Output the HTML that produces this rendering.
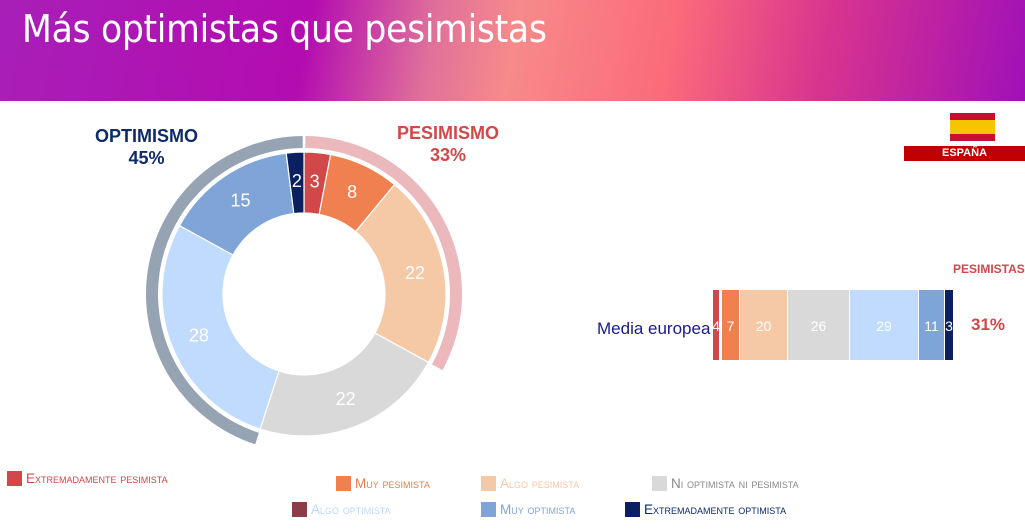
<!DOCTYPE html>
<html><head><meta charset="utf-8"><style>
body{margin:0;width:1025px;height:530px;overflow:hidden;background:#fff;font-family:"Liberation Sans",sans-serif;position:relative}
.hdr{position:absolute;left:0;top:0;width:1025px;height:101px;background:linear-gradient(100deg,#a81fb8 0%,#b30cb0 30%,#e0709a 42%,#f78a8a 50%,#fb6b7a 65%,#d8348f 80%,#a010b8 100%)}
.t{position:absolute;left:22px;top:7px;color:#fff;font-size:38.5px;font-family:"DejaVu Sans Condensed","Liberation Sans Narrow","Liberation Sans",sans-serif;letter-spacing:-0.3px}
.a{position:absolute;white-space:nowrap}
.lg{position:absolute;font-size:13.5px;font-variant:small-caps;white-space:nowrap}
.lg i{display:inline-block;width:15px;height:15px;vertical-align:-3px;margin-right:4px}
</style></head><body>
<div class="hdr"></div>
<div class="t">Más optimistas que pesimistas</div>
<svg class="a" style="left:0;top:0" width="1025" height="530" id="s"></svg>
<div class="a" style="left:95px;top:125px;color:#0d2a6b;font-weight:bold;font-size:18px;text-align:center;line-height:22px">OPTIMISMO<br>45%</div>
<div class="a" style="left:397px;top:122px;color:#d04848;font-weight:bold;font-size:18px;text-align:center;line-height:22px">PESIMISMO<br>33%</div>
<div class="a" style="left:950px;top:113px;width:45px;height:28px;background:#c8102e"><div style="margin-top:7px;height:14px;background:#f6c400"></div></div>
<div class="a" style="left:904px;top:146px;width:121px;height:15px;background:#c00000;color:#fff;font-size:11px;font-weight:bold;text-align:center;line-height:15px">ESPAÑA</div>
<div class="a" style="left:953px;top:262px;color:#d04848;font-weight:bold;font-size:12px">PESIMISTAS</div>
<div class="a" style="left:971px;top:315px;color:#d04848;font-weight:bold;font-size:17px">31%</div>
<div class="a" style="left:597px;top:319px;color:#1a1a8c;font-size:17px">Media europea</div>
<div class="lg" style="left:7px;top:471px;color:#d04848"><i style="background:#d04848"></i>Extremadamente pesimista</div>
<div class="lg" style="left:336px;top:476px;color:#e88048"><i style="background:#f08050"></i>Muy pesimista</div>
<div class="lg" style="left:481px;top:476px;color:#f4c8a8"><i style="background:#f5c9a6"></i>Algo pesimista</div>
<div class="lg" style="left:652px;top:476px;color:#888"><i style="background:#d9d9d9"></i>Ni optimista ni pesimista</div>
<div class="lg" style="left:292px;top:502px;color:#c0d8f8"><i style="background:#8c3c48"></i>Algo optimista</div>
<div class="lg" style="left:481px;top:502px;color:#7fa5d8"><i style="background:#7fa5d8"></i>Muy optimista</div>
<div class="lg" style="left:625px;top:502px;color:#0d2a6b"><i style="background:#0a2060"></i>Extremadamente optimista</div>
<script>
var s=document.getElementById('s'),cx=304,cy=294,h='';
function p(a,r){a=(a-90)*Math.PI/180;return [cx+r*Math.cos(a),cy+r*Math.sin(a)]}
function arc(a0,a1,r0,r1,f,st){var A=p(a0,r1),B=p(a1,r1),C=p(a1,r0),D=p(a0,r0),l=a1-a0>180?1:0;
return '<path d="M'+A+'A'+r1+','+r1+' 0 '+l+' 1 '+B+'L'+C+'A'+r0+','+r0+' 0 '+l+' 0 '+D+'Z" fill="'+f+'" '+(st||'')+'/>'}
h+=arc(0.5,118.8,146,158,'#ebb8bc');
h+=arc(198,359.5,146,158,'#95a3b3');
var d=[[3,'#d04848'],[8,'#f08050'],[22,'#f5c9a6'],[22,'#d9d9d9'],[28,'#c0dbfd'],[15,'#7fa5d8'],[2,'#0a2060']],a=0;
d.forEach(function(x){var a1=a+x[0]*3.6;h+=arc(a,a1,81,142,x[1],'stroke="#fff" stroke-width="1.2"');
var m=p((a+a1)/2,113);h+='<text x="'+m[0]+'" y="'+(m[1]+6)+'" fill="#fff" font-size="18" text-anchor="middle" font-family="Liberation Sans,sans-serif">'+x[0]+'</text>';a=a1});
var b=[[713,719,4,'#d04848'],[722,739,7,'#f08050'],[740,787,20,'#f5c9a6'],[788,849,26,'#d9d9d9'],[850,918,29,'#c0dbfd'],[919,944,11,'#7fa5d8'],[945,953,3,'#0a2060']];
b.forEach(function(x){h+='<rect x="'+x[0]+'" y="290" width="'+(x[1]-x[0])+'" height="70" fill="'+x[3]+'"/><text x="'+(x[0]+x[1])/2+'" y="331" fill="#fff" font-size="14" text-anchor="middle" font-family="Liberation Sans,sans-serif">'+x[2]+'</text>'});
s.innerHTML=h;
</script>
</body></html>
